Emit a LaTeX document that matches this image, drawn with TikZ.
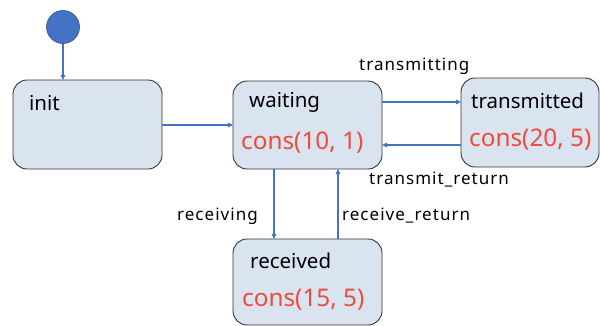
\documentclass[tikz,border=0pt]{standalone}
\usepackage{fontspec}
\setmainfont{Noto Sans}
\usetikzlibrary{arrows.meta}
\definecolor{stfill}{HTML}{DAE3F0}
\definecolor{arblue}{HTML}{4472C4}
\definecolor{consred}{HTML}{EE4B3B}
\tikzset{
  statebox/.style={draw=black!80, line width=0.9pt, fill=stfill, rounded corners=14pt, inner sep=0pt},
  sname/.style={anchor=west, inner sep=0pt, font=\fontsize{20.5}{22}\selectfont},
  scons/.style={anchor=west, inner sep=0pt, text=consred, font=\fontsize{24.3}{26}\selectfont},
  tlabel/.style={anchor=west, inner sep=0pt, font=\fontsize{17}{19}\selectfont\addfontfeatures{LetterSpace=6}},
  trans/.style={draw=arblue, line width=1.1pt, -{Triangle[length=5pt,width=4.5pt]}},
}
\begin{document}
\begin{tikzpicture}[x=1pt,y=-1pt]
\useasboundingbox (0,0) rectangle (600,325);
% initial
\node[circle, fill=arblue, draw=arblue!70!black, line width=0.6pt, minimum size=33pt, inner sep=0pt] (start) at (63,27) {};
% states
\node[statebox, minimum width=149pt, minimum height=89pt] (init) at (87.5,124.5) {};
\node[statebox, minimum width=149pt, minimum height=88pt] (waiting) at (307.5,125) {};
\node[statebox, minimum width=138pt, minimum height=89pt] (transmitted) at (530,122.5) {};
\node[statebox, minimum width=149pt, minimum height=86pt] (received) at (307.5,282) {};
% state texts
\node[sname] (tinit) at (29,103) {init};
\node[sname] (twaiting) at (249,102) {waiting};
\node[scons] (cwaiting) at (241,143) {cons(10, 1)};
\node[sname] (ttransmitted) at (471,101) {transmitted};
\node[scons] (ctransmitted) at (469,140) {cons(20, 5)};
\node[sname] (treceived) at (250,261) {received};
\node[scons] (creceived) at (242,300) {cons(15, 5)};
% coordinates for connectors
\coordinate (s2) at (63,80);
\coordinate (i1) at (162,125);
\coordinate (w1) at (233,125);
\coordinate (w2) at (382,102);
\coordinate (t2) at (461,102);
\coordinate (t3) at (461,145);
\coordinate (w3) at (382,145);
\coordinate (w4) at (274,169);
\coordinate (r4) at (274,239);
\coordinate (r5) at (338,239);
\coordinate (w5) at (338,169);
% connectors
\draw[trans] (start.south) -- (s2);
\draw[trans] (i1) -- (w1);
\draw[trans] (w2) -- (t2);
\draw[trans] (t3) -- (w3);
\draw[trans] (w4) -- (r4);
\draw[trans] (r5) -- (w5);
% labels
\node[tlabel] (ltransmitting) at (359,66) {transmitting};
\node[tlabel] (ltreturn) at (369,180) {transmit\_return};
\node[tlabel] (lreceiving) at (177,216) {receiving};
\node[tlabel] (lrreturn) at (342,216) {receive\_return};
\end{tikzpicture}
\end{document}
